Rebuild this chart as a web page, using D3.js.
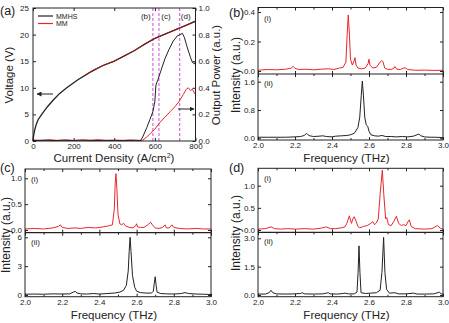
<!DOCTYPE html>
<html>
<head>
<meta charset="utf-8">
<script src="https://cdn.jsdelivr.net/npm/d3@7"></script>
<style>
  body { margin: 0; background: #fff; }
  svg text { font-family: "Liberation Sans", Arial, sans-serif; fill: #222; }
</style>
</head>
<body>
<div id="fig"></div>
<script>
// ---- panel (a) data ----
var jVolt = [0, 3, 8, 15, 25, 43, 70, 100, 130, 166, 221, 280, 340, 400, 450, 500, 550, 600, 650, 700, 750, 800];
var voltMMHS = [0, 1, 2, 3, 4, 5, 6.4, 7.7, 8.9, 10, 11.5, 12.9, 14.1, 15.0, 16.0, 17.0, 18.2, 19.3, 20.1, 20.9, 21.7, 22.5];
var jVoltMM = [250, 300, 350, 400, 450, 500, 550, 600, 650, 700, 750, 800];
var voltMM = [12.2, 13.4, 14.3, 15.0, 16.0, 17.0, 18.2, 19.3, 20.1, 20.9, 21.7, 22.6];

var jPowMMHS = [0, 50, 100, 150, 200, 250, 300, 350, 400, 450, 500, 530, 540, 560, 575, 590, 600, 605, 615, 630, 650, 670, 690, 710, 725, 735, 745, 760, 775, 785, 795, 800];
var powMMHS = [0.003, 0.006, 0.003, 0.005, 0.004, 0.006, 0.003, 0.005, 0.004, 0.003, 0.005, 0.004, 0.03, 0.1, 0.16, 0.22, 0.3, 0.42, 0.46, 0.53, 0.62, 0.69, 0.75, 0.79, 0.8, 0.81, 0.78, 0.7, 0.63, 0.59, 0.58, 0.6];
var jPowMM = [0, 40, 80, 120, 160, 200, 240, 280, 320, 360, 400, 440, 480, 520, 540, 560, 580, 600, 625, 650, 675, 700, 720, 740, 755, 765, 775, 785, 795, 800];
var powMM = [0.008, 0.004, 0.01, 0.005, 0.009, 0.004, 0.008, 0.006, 0.01, 0.004, 0.007, 0.005, 0.008, 0.004, 0.006, 0.03, 0.06, 0.09, 0.14, 0.18, 0.22, 0.26, 0.3, 0.35, 0.39, 0.4, 0.38, 0.39, 0.36, 0.35];

var markerJ = [590, 620, 722];
var markerLabels = ["(b)", "(c)", "(d)"];
var voltTicks = [0, 5, 10, 15, 20, 25];
var powTicks = [0, 0.2, 0.4, 0.6, 0.8, 1.0];
var jTicks = [0, 200, 400, 600, 800];

// ---- spectra data [frequency THz, intensity] ----
var specB1 = [[2.00,0.005],[2.05,0.01],[2.10,0.008],[2.15,0.012],[2.18,0.02],[2.19,0.032],[2.20,0.018],[2.22,0.01],[2.26,0.012],[2.30,0.008],[2.34,0.012],[2.38,0.015],[2.41,0.01],[2.44,0.02],[2.46,0.025],[2.475,0.06],[2.482,0.25],[2.488,0.38],[2.494,0.25],[2.50,0.08],[2.51,0.04],[2.52,0.07],[2.524,0.09],[2.53,0.04],[2.54,0.02],[2.56,0.015],[2.58,0.02],[2.595,0.05],[2.60,0.08],[2.605,0.04],[2.62,0.02],[2.64,0.025],[2.66,0.06],[2.668,0.07],[2.675,0.065],[2.685,0.02],[2.70,0.012],[2.72,0.01],[2.735,0.02],[2.74,0.03],[2.75,0.012],[2.77,0.01],[2.785,0.02],[2.795,0.022],[2.81,0.01],[2.85,0.005],[2.90,0.006],[2.95,0.004],[3.00,0.005]];
var specB2 = [[2.00,0.03],[2.05,0.03],[2.10,0.03],[2.15,0.03],[2.20,0.04],[2.23,0.05],[2.25,0.08],[2.263,0.14],[2.27,0.1],[2.28,0.07],[2.30,0.05],[2.33,0.06],[2.35,0.07],[2.37,0.05],[2.40,0.04],[2.42,0.06],[2.45,0.07],[2.48,0.08],[2.50,0.1],[2.52,0.14],[2.54,0.3],[2.55,0.6],[2.558,1.2],[2.564,1.62],[2.57,1.2],[2.577,0.6],[2.585,0.38],[2.593,0.34],[2.60,0.2],[2.61,0.1],[2.63,0.07],[2.65,0.06],[2.67,0.08],[2.69,0.05],[2.72,0.05],[2.75,0.04],[2.78,0.05],[2.81,0.04],[2.84,0.06],[2.86,0.1],[2.87,0.12],[2.88,0.07],[2.90,0.04],[2.93,0.03],[2.96,0.03],[3.00,0.02]];
var specC1 = [[2.00,0.02],[2.05,0.03],[2.10,0.02],[2.15,0.04],[2.18,0.07],[2.19,0.1],[2.20,0.05],[2.23,0.03],[2.27,0.04],[2.30,0.03],[2.34,0.05],[2.38,0.04],[2.42,0.06],[2.45,0.08],[2.47,0.1],[2.48,0.4],[2.485,0.9],[2.489,1.09],[2.494,0.8],[2.50,0.3],[2.51,0.12],[2.52,0.1],[2.53,0.13],[2.54,0.08],[2.56,0.05],[2.58,0.04],[2.595,0.08],[2.60,0.12],[2.605,0.06],[2.62,0.05],[2.64,0.05],[2.66,0.1],[2.676,0.15],[2.685,0.1],[2.70,0.04],[2.72,0.03],[2.74,0.05],[2.753,0.1],[2.76,0.04],[2.775,0.04],[2.79,0.1],[2.80,0.05],[2.83,0.03],[2.87,0.02],[2.92,0.03],[2.96,0.02],[3.00,0.02]];
var specC2 = [[2.00,0.08],[2.05,0.1],[2.10,0.08],[2.15,0.12],[2.20,0.1],[2.24,0.12],[2.26,0.3],[2.27,0.38],[2.28,0.2],[2.30,0.12],[2.33,0.1],[2.37,0.15],[2.40,0.1],[2.44,0.15],[2.48,0.2],[2.51,0.3],[2.53,0.5],[2.545,1.0],[2.555,2.5],[2.56,4.5],[2.565,6.0],[2.57,4.5],[2.578,2.0],[2.59,0.8],[2.60,0.4],[2.62,0.25],[2.65,0.2],[2.68,0.2],[2.69,0.4],[2.695,1.2],[2.70,1.9],[2.705,1.0],[2.71,0.3],[2.73,0.15],[2.76,0.12],[2.80,0.1],[2.84,0.15],[2.86,0.25],[2.88,0.15],[2.92,0.1],[2.96,0.08],[3.00,0.05]];
var specD1 = [[2.00,0.02],[2.04,0.03],[2.07,0.07],[2.09,0.03],[2.12,0.02],[2.16,0.03],[2.20,0.02],[2.25,0.03],[2.30,0.02],[2.34,0.04],[2.37,0.07],[2.39,0.03],[2.42,0.03],[2.45,0.05],[2.47,0.07],[2.48,0.15],[2.494,0.32],[2.505,0.15],[2.515,0.27],[2.52,0.3],[2.53,0.2],[2.54,0.08],[2.55,0.05],[2.57,0.08],[2.59,0.1],[2.61,0.15],[2.62,0.19],[2.63,0.12],[2.64,0.16],[2.65,0.25],[2.66,0.8],[2.672,1.35],[2.68,0.8],[2.69,0.25],[2.696,0.28],[2.705,0.12],[2.72,0.1],[2.735,0.2],[2.748,0.31],[2.76,0.15],[2.775,0.1],[2.785,0.12],[2.80,0.1],[2.81,0.18],[2.818,0.23],[2.828,0.08],[2.85,0.03],[2.90,0.02],[2.94,0.03],[2.97,0.1],[2.985,0.04],[3.00,0.02]];
var specD2 = [[2.00,0.05],[2.04,0.05],[2.06,0.12],[2.07,0.25],[2.08,0.12],[2.10,0.06],[2.15,0.05],[2.20,0.06],[2.23,0.08],[2.24,0.12],[2.25,0.06],[2.30,0.05],[2.35,0.06],[2.37,0.1],[2.38,0.12],[2.39,0.06],[2.43,0.05],[2.46,0.08],[2.47,0.1],[2.49,0.06],[2.52,0.06],[2.535,0.15],[2.541,1.2],[2.546,2.6],[2.551,1.2],[2.557,0.12],[2.58,0.08],[2.61,0.1],[2.64,0.12],[2.66,0.25],[2.67,1.2],[2.679,3.05],[2.686,1.2],[2.695,0.3],[2.71,0.1],[2.74,0.12],[2.76,0.06],[2.80,0.06],[2.84,0.1],[2.86,0.05],[2.90,0.05],[2.95,0.06],[2.98,0.15],[2.99,0.06],[3.00,0.05]];

var freqTicks = [2.0, 2.2, 2.4, 2.6, 2.8, 3.0];
var freqMinor = [2.1, 2.3, 2.5, 2.7, 2.9];
var ticksB1 = [0, 0.2, 0.4], ticksB2 = [0, 0.8, 1.6];
var ticksC1 = [0, 0.5, 1.0], ticksC2 = [0, 3, 6];
var ticksD1 = [0, 0.5, 1.0], ticksD2 = [0, 1.5, 3.0];

var RED = "#e8262e", MAGENTA = "#d66ae6";
var TICKFONT = "8px";

var svg = d3.select("#fig").append("svg")
    .attr("width", 449)
    .attr("height", 323);

var defs = svg.append("defs");
defs.append("marker")
    .attr("id", "arrow")
    .attr("viewBox", "0 0 10 10")
    .attr("refX", 9).attr("refY", 5)
    .attr("markerWidth", 5).attr("markerHeight", 5)
    .attr("orient", "auto")
    .append("path")
    .attr("d", "M0,0 L10,5 L0,10 z")
    .attr("fill", "#222");

// styling helper for inward ticks
function styleAxis(g) {
    g.select(".domain").remove();
    g.selectAll("line").attr("stroke", "#222");
    g.selectAll("text").attr("font-size", TICKFONT).attr("fill", "#222");
}

// ================= panel (a) =================
var xA = d3.scaleLinear().domain([0, 800]).range([33, 195.5]);
var yV = d3.scaleLinear().domain([0, 25]).range([141, 8]);
var yP = d3.scaleLinear().domain([0, 1]).range([141, 8]);

var gA = svg.append("g");

gA.append("g").attr("transform", "translate(0,141)")
    .call(d3.axisBottom(xA).tickValues(jTicks).tickSize(-3).tickPadding(2.5))
    .call(styleAxis);
gA.append("g").attr("transform", "translate(0,8)")
    .call(d3.axisTop(xA).tickValues(jTicks).tickSize(-3).tickFormat(""))
    .call(styleAxis);
gA.append("g").attr("transform", "translate(33,0)")
    .call(d3.axisLeft(yV).tickValues(voltTicks).tickSize(-3).tickPadding(4))
    .call(styleAxis);
gA.append("g").attr("transform", "translate(195.5,0)")
    .call(d3.axisRight(yP).tickValues(powTicks).tickSize(-3).tickPadding(3).tickFormat(d3.format(".1f")))
    .call(styleAxis);

// marker lines
var markerOffset = [-7, 7, 6];
markerJ.forEach(function (j, i) {
    gA.append("line")
        .attr("x1", xA(j)).attr("x2", xA(j))
        .attr("y1", yV(25)).attr("y2", yV(0))
        .attr("stroke", MAGENTA).attr("stroke-width", 1.2)
        .attr("stroke-dasharray", "3,2");
    gA.append("text")
        .attr("x", xA(j) + markerOffset[i]).attr("y", 19)
        .attr("text-anchor", "middle")
        .attr("font-size", "8px")
        .text(markerLabels[i]);
});

var lineV = d3.line().x(function (d) { return xA(d[0]); }).y(function (d) { return yV(d[1]); });
var lineP = d3.line().x(function (d) { return xA(d[0]); }).y(function (d) { return yP(d[1]); });

gA.append("path").datum(d3.zip(jPowMM, powMM))
    .attr("d", lineP).attr("fill", "none").attr("stroke", RED).attr("stroke-width", 1);
gA.append("path").datum(d3.zip(jPowMMHS, powMMHS))
    .attr("d", lineP).attr("fill", "none").attr("stroke", "#222").attr("stroke-width", 1);
gA.append("path").datum(d3.zip(jVolt, voltMMHS))
    .attr("d", lineV).attr("fill", "none").attr("stroke", "#222").attr("stroke-width", 1.3);
gA.append("path").datum(d3.zip(jVoltMM, voltMM))
    .attr("d", lineV).attr("fill", "none").attr("stroke", "#a01818").attr("stroke-width", 1);

gA.append("rect").attr("x", 33).attr("y", 8).attr("width", 162.5).attr("height", 133)
    .attr("fill", "none").attr("stroke", "#222").attr("stroke-width", 1);

// legend
[["MMHS", "#222", 16], ["MM", RED, 23.5]].forEach(function (l) {
    gA.append("line").attr("x1", 38).attr("x2", 53).attr("y1", l[2]).attr("y2", l[2])
        .attr("stroke", l[1]).attr("stroke-width", 1.2);
    gA.append("text").attr("x", 56).attr("y", l[2] + 2.5).attr("font-size", "7px").text(l[0]);
});

// arrows
gA.append("line").attr("x1", 53).attr("x2", 37).attr("y1", 94).attr("y2", 94)
    .attr("stroke", "#222").attr("stroke-width", 1).attr("marker-end", "url(#arrow)");
gA.append("line").attr("x1", 178).attr("x2", 194).attr("y1", 109).attr("y2", 109)
    .attr("stroke", "#222").attr("stroke-width", 1).attr("marker-end", "url(#arrow)");

svg.append("text").attr("x", 0).attr("y", 15).attr("font-size", "12.5px").text("(a)");
svg.append("text").attr("transform", "translate(13,75) rotate(-90)")
    .attr("text-anchor", "middle").attr("font-size", "11.5px").text("Voltage (V)");
svg.append("text").attr("transform", "translate(220,75) rotate(-90)")
    .attr("text-anchor", "middle").attr("font-size", "11.5px").text("Output Power (a.u.)");
var cd = svg.append("text").attr("x", 114).attr("y", 162)
    .attr("text-anchor", "middle").attr("font-size", "11.5px");
cd.append("tspan").text("Current Density (A/cm");
cd.append("tspan").attr("font-size", "7px").attr("dy", -4).text("2");
cd.append("tspan").attr("dy", 4).text(")");

// ================= spectra panels =================
function spectraPanel(cfg) {
    var g = svg.append("g");
    var x = d3.scaleLinear().domain([2.0, 3.0]).range([cfg.x0, cfg.x1]);
    var yT = d3.scaleLinear().domain([0, cfg.topMax]).range([cfg.topZero, cfg.topMaxY]);
    var yB = d3.scaleLinear().domain([0, cfg.botMax]).range([cfg.botZero, cfg.botMaxY]);
    var w = cfg.x1 - cfg.x0;

    var clipT = "clipT" + cfg.name, clipB = "clipB" + cfg.name;
    defs.append("clipPath").attr("id", clipT).append("rect")
        .attr("x", cfg.x0).attr("y", cfg.top).attr("width", w).attr("height", cfg.mid - cfg.top);
    defs.append("clipPath").attr("id", clipB).append("rect")
        .attr("x", cfg.x0).attr("y", cfg.mid).attr("width", w).attr("height", cfg.bottom - cfg.mid);

    // x ticks: bottom (labels), top, and divider both sides
    g.append("g").attr("transform", "translate(0," + cfg.bottom + ")")
        .call(d3.axisBottom(x).tickValues(freqTicks).tickSize(-3).tickPadding(2.5).tickFormat(d3.format(".1f")))
        .call(styleAxis);
    g.append("g").attr("transform", "translate(0," + cfg.bottom + ")")
        .call(d3.axisBottom(x).tickValues(freqMinor).tickSize(-2).tickFormat(""))
        .call(styleAxis);
    [cfg.top, cfg.mid].forEach(function (yy) {
        g.append("g").attr("transform", "translate(0," + yy + ")")
            .call(d3.axisTop(x).tickValues(freqTicks).tickSize(-3).tickFormat(""))
            .call(styleAxis);
        g.append("g").attr("transform", "translate(0," + yy + ")")
            .call(d3.axisTop(x).tickValues(freqMinor).tickSize(-2).tickFormat(""))
            .call(styleAxis);
    });
    g.append("g").attr("transform", "translate(0," + cfg.mid + ")")
        .call(d3.axisBottom(x).tickValues(freqTicks).tickSize(-3).tickFormat(""))
        .call(styleAxis);

    // y ticks
    g.append("g").attr("transform", "translate(" + cfg.x0 + ",0)")
        .call(d3.axisLeft(yT).tickValues(cfg.topTicks).tickSize(-3).tickPadding(3).tickFormat(d3.format(cfg.topFmt)))
        .call(styleAxis);
    g.append("g").attr("transform", "translate(" + cfg.x0 + ",0)")
        .call(d3.axisLeft(yB).tickValues(cfg.botTicks).tickSize(-3).tickPadding(3).tickFormat(d3.format(cfg.botFmt)))
        .call(styleAxis);
    g.append("g").attr("transform", "translate(" + cfg.x1 + ",0)")
        .call(d3.axisRight(yT).tickValues(cfg.topTicks).tickSize(-3).tickFormat(""))
        .call(styleAxis);
    g.append("g").attr("transform", "translate(" + cfg.x1 + ",0)")
        .call(d3.axisRight(yB).tickValues(cfg.botTicks).tickSize(-3).tickFormat(""))
        .call(styleAxis);

    var lT = d3.line().x(function (d) { return x(d[0]); }).y(function (d) { return yT(d[1]); });
    var lB = d3.line().x(function (d) { return x(d[0]); }).y(function (d) { return yB(d[1]); });

    g.append("path").datum(cfg.top_data).attr("clip-path", "url(#" + clipT + ")")
        .attr("d", lT).attr("fill", "none").attr("stroke", RED).attr("stroke-width", 1);
    g.append("path").datum(cfg.bot_data).attr("clip-path", "url(#" + clipB + ")")
        .attr("d", lB).attr("fill", "none").attr("stroke", "#222").attr("stroke-width", 1);

    g.append("rect").attr("x", cfg.x0).attr("y", cfg.top).attr("width", w).attr("height", cfg.bottom - cfg.top)
        .attr("fill", "none").attr("stroke", "#222").attr("stroke-width", 1);
    g.append("line").attr("x1", cfg.x0).attr("x2", cfg.x1).attr("y1", cfg.mid).attr("y2", cfg.mid)
        .attr("stroke", "#222").attr("stroke-width", 1.2);

    g.append("text").attr("x", cfg.x0 + 6).attr("y", cfg.top + 13).attr("font-size", "8px").text("(i)");
    g.append("text").attr("x", cfg.x0 + 6).attr("y", cfg.mid + 12).attr("font-size", "8px").text("(ii)");

    svg.append("text").attr("x", cfg.labelX).attr("y", cfg.labelY).attr("font-size", "12.5px").text(cfg.label);
    svg.append("text").attr("transform", "translate(" + cfg.yTitleX + "," + cfg.yTitleY + ") rotate(-90)")
        .attr("text-anchor", "middle").attr("font-size", "12px").text("Intensity (a.u.)");
    svg.append("text").attr("x", (cfg.x0 + cfg.x1) / 2 - 4).attr("y", cfg.bottom + 22)
        .attr("text-anchor", "middle").attr("font-size", "11.5px").text("Frequency (THz)");
}

spectraPanel({
    name: "b", label: "(b)", labelX: 229, labelY: 17, yTitleX: 240, yTitleY: 75,
    x0: 258, x1: 443, top: 7.5, mid: 74, bottom: 140,
    topMax: 0.4, topZero: 71, topMaxY: 12, botMax: 1.6, botZero: 138.3, botMaxY: 81.7,
    topTicks: ticksB1, botTicks: ticksB2, topFmt: ".1f", botFmt: ".1f",
    top_data: specB1, bot_data: specB2
});
spectraPanel({
    name: "c", label: "(c)", labelX: 0, labelY: 172, yTitleX: 10, yTitleY: 235,
    x0: 25, x1: 211, top: 169, mid: 232.7, bottom: 296.7,
    topMax: 1.0, topZero: 230, topMaxY: 178.3, botMax: 6, botZero: 295, botMaxY: 237.3,
    topTicks: ticksC1, botTicks: ticksC2, topFmt: ".1f", botFmt: "d",
    top_data: specC1, bot_data: specC2
});
spectraPanel({
    name: "d", label: "(d)", labelX: 229, labelY: 172, yTitleX: 240, yTitleY: 233,
    x0: 258, x1: 443, top: 168.3, mid: 232.3, bottom: 296.7,
    topMax: 1.0, topZero: 230, topMaxY: 185.7, botMax: 3.0, botZero: 295, botMaxY: 238.3,
    topTicks: ticksD1, botTicks: ticksD2, topFmt: ".1f", botFmt: ".1f",
    top_data: specD1, bot_data: specD2
});
</script>
</body>
</html>
